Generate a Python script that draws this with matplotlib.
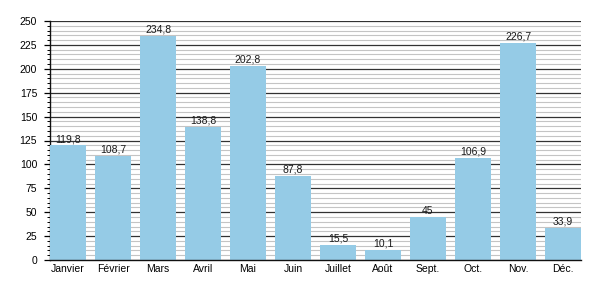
import matplotlib
matplotlib.use("Agg")
import matplotlib.pyplot as plt
from matplotlib.ticker import MultipleLocator

months = ["Janvier", "Février", "Mars", "Avril", "Mai", "Juin", "Juillet",
          "Août", "Sept.", "Oct.", "Nov.", "Déc."]
values = [119.8, 108.7, 234.8, 138.8, 202.8, 87.8, 15.5, 10.1, 45, 106.9, 226.7, 33.9]
labels = ["119,8", "108,7", "234,8", "138,8", "202,8", "87,8", "15,5", "10,1",
          "45", "106,9", "226,7", "33,9"]

plt.rcParams['font.family'] = ['Liberation Sans', 'DejaVu Sans']

fig = plt.figure(figsize=(6, 3), dpi=100)
ax = fig.add_axes([50/600, 40/300, 531/600, 239/300])

x = list(range(len(months)))
ax.bar(x, values, width=0.8, color="#95cbe6", zorder=3)
for xi, v, lab in zip(x, values, labels):
    ax.text(xi, v + 1.5, lab, ha="center", va="bottom", fontsize=7.5, color="#1a1a1a", zorder=4)

ax.set_xlim(-0.4, 11.4)
ax.set_ylim(0, 250)
ax.yaxis.set_major_locator(MultipleLocator(25))
ax.yaxis.set_minor_locator(MultipleLocator(5))
ax.grid(axis="y", which="major", color="#333333", linewidth=0.9, zorder=1)
ax.grid(axis="y", which="minor", color="#c4c4c4", linewidth=0.8, zorder=0)
ax.set_xticks(x)
ax.set_xticklabels(months)
ax.tick_params(axis="x", length=0, labelsize=7.5, pad=3)
ax.tick_params(axis="y", which="major", length=4.3, width=0.9, labelsize=7.5, pad=5)
ax.tick_params(axis="y", which="minor", length=2.2, width=0.7)
for s in ["top", "right"]:
    ax.spines[s].set_visible(False)
ax.spines["left"].set_color("#111111")
ax.spines["bottom"].set_color("#111111")
ax.spines["left"].set_linewidth(1)
ax.spines["bottom"].set_linewidth(1)
ax.spines["bottom"].set_zorder(5)

fig.savefig("out.png", dpi=100)
